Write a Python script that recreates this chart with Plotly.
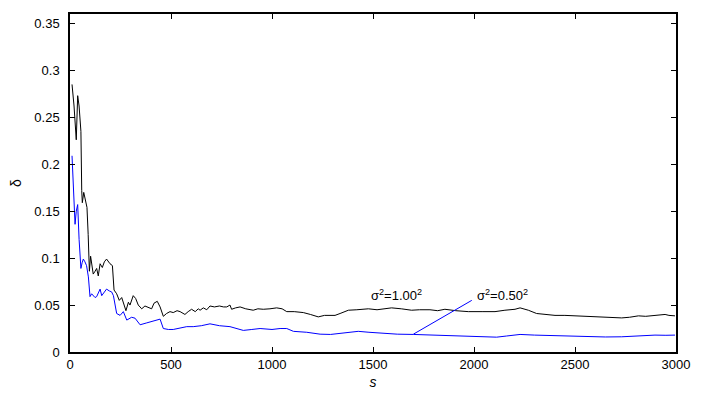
import plotly.graph_objects as go

# sigma^2 = 1.00^2 (black)
s_black = [10, 20, 31, 38, 45, 54, 58, 61, 68, 78, 84, 90, 94, 96, 102, 108, 115, 124, 132, 140,
           149, 160, 170, 181, 190, 198, 210, 218, 231, 244, 256, 267, 277, 289, 297, 313, 325, 338,
           355, 371, 388, 404, 416, 432, 446, 462, 478, 495, 511, 530, 545, 569, 585, 602, 620, 635,
           644, 660, 677, 693, 715, 740, 760, 776, 792, 800, 820, 842, 870, 907, 930, 957, 990, 1023,
           1050, 1073, 1110, 1155, 1190, 1229, 1260, 1287, 1312, 1337, 1378, 1420, 1477, 1520, 1560,
           1592, 1640, 1691, 1730, 1782, 1820, 1856, 1910, 1972, 2040, 2104, 2153, 2203, 2228, 2250,
           2269, 2310, 2350, 2401, 2450, 2500, 2566, 2620, 2680, 2731, 2770, 2814, 2850, 2896, 2946,
           2965, 2995]
d_black = [0.285, 0.262, 0.226, 0.273, 0.262, 0.235, 0.172, 0.159, 0.170, 0.158, 0.154, 0.125, 0.101,
           0.086, 0.102, 0.090, 0.083, 0.086, 0.089, 0.081, 0.094, 0.090, 0.096, 0.099, 0.096, 0.094,
           0.092, 0.066, 0.062, 0.055, 0.058, 0.050, 0.044, 0.053, 0.050, 0.060, 0.057, 0.050, 0.046,
           0.049, 0.047, 0.046, 0.052, 0.054, 0.048, 0.038, 0.041, 0.043, 0.042, 0.044, 0.043, 0.040,
           0.043, 0.0455, 0.043, 0.046, 0.0445, 0.047, 0.045, 0.049, 0.048, 0.049, 0.048, 0.048, 0.050,
           0.0455, 0.047, 0.048, 0.046, 0.0445, 0.046, 0.0455, 0.046, 0.047, 0.046, 0.043, 0.043, 0.042,
           0.040, 0.0374, 0.039, 0.039, 0.039, 0.041, 0.0445, 0.045, 0.046, 0.045, 0.046, 0.047, 0.046,
           0.0445, 0.045, 0.045, 0.044, 0.0455, 0.044, 0.043, 0.043, 0.043, 0.0445, 0.0455, 0.047,
           0.046, 0.0445, 0.041, 0.040, 0.039, 0.039, 0.0385, 0.0385, 0.0375, 0.037, 0.0363, 0.037,
           0.0385, 0.038, 0.039, 0.040, 0.039, 0.0385]

# sigma^2 = 0.50^2 (blue)
s_blue = [10, 18, 25, 31, 38, 45, 54, 60, 66, 74, 82, 91, 99, 107, 115, 124, 132, 140, 149, 157, 170,
          181, 195, 206, 215, 223, 231, 248, 264, 281, 295, 305, 322, 347, 380, 410, 429, 446, 462,
          487, 511, 540, 578, 610, 650, 693, 740, 792, 830, 858, 900, 941, 1000, 1040, 1073, 1106,
          1172, 1238, 1290, 1337, 1380, 1427, 1480, 1559, 1620, 1700, 1780, 1856, 1950, 2054, 2112,
          2160, 2203, 2228, 2300, 2401, 2480, 2566, 2650, 2731, 2800, 2850, 2896, 2950, 2995]
d_blue = [0.209, 0.170, 0.136, 0.150, 0.157, 0.120, 0.089, 0.095, 0.099, 0.096, 0.092, 0.080, 0.059,
          0.062, 0.060, 0.058, 0.059, 0.063, 0.067, 0.060, 0.064, 0.067, 0.065, 0.064, 0.060, 0.050,
          0.041, 0.039, 0.043, 0.034, 0.036, 0.037, 0.036, 0.029, 0.031, 0.033, 0.034, 0.035, 0.025,
          0.024, 0.024, 0.025, 0.027, 0.027, 0.028, 0.030, 0.028, 0.027, 0.025, 0.023, 0.024, 0.025,
          0.024, 0.025, 0.025, 0.022, 0.021, 0.019, 0.0187, 0.0197, 0.021, 0.022, 0.021, 0.0198,
          0.019, 0.0187, 0.018, 0.0173, 0.017, 0.0162, 0.0158, 0.017, 0.018, 0.0187, 0.018, 0.0173,
          0.0168, 0.0162, 0.016, 0.0162, 0.017, 0.0178, 0.018, 0.0178, 0.018]

x_ticks = [0, 500, 1000, 1500, 2000, 2500, 3000]
x_labels = ["0", "500", "1000", "1500", "2000", "2500", "3000"]
y_ticks = [0, 0.05, 0.1, 0.15, 0.2, 0.25, 0.3, 0.35]
y_labels = ["0", "0.05", "0.1", "0.15", "0.2", "0.25", "0.3", "0.35"]

FONT = "Liberation Sans, Arial, Helvetica, sans-serif"

fig = go.Figure()
fig.add_trace(go.Scatter(x=s_black, y=d_black, mode="lines",
                         line=dict(color="black", width=1), showlegend=False))
fig.add_trace(go.Scatter(x=s_blue, y=d_blue, mode="lines",
                         line=dict(color="#0000ff", width=1), showlegend=False))

axis_common = dict(showline=True, linecolor="black", linewidth=1.5, mirror="ticks",
                   ticks="inside", ticklen=5, tickcolor="black", tickwidth=1,
                   showgrid=False, zeroline=False,
                   tickfont=dict(family=FONT, size=13, color="black"))

fig.update_xaxes(range=[0, 3000], tickvals=x_ticks, ticktext=x_labels,
                 title=dict(text="<i>s</i>", font=dict(family=FONT, size=14, color="black"), standoff=6),
                 **axis_common)
fig.update_yaxes(range=[0, 0.36], tickvals=y_ticks, ticktext=y_labels, ticklabelstandoff=6,
                 title=dict(text="δ", font=dict(family=FONT, size=14, color="black"), standoff=12),
                 **axis_common)

fig.add_annotation(x=1618, y=0.0605, text="σ<sup>2</sup>=1.00<sup>2</sup>", showarrow=False,
                   font=dict(family=FONT, size=13, color="black"))
fig.add_annotation(x=2139, y=0.0605, text="σ<sup>2</sup>=0.50<sup>2</sup>", showarrow=False,
                   font=dict(family=FONT, size=13, color="black"))
fig.add_shape(type="line", x0=1700, y0=0.019, x1=1989, y1=0.055,
              line=dict(color="#0000ff", width=1))

# page body has an 8px default margin, so the figure is sized to fit inside it
fig.update_layout(width=695, height=388, margin=dict(l=62, r=27, t=4, b=44),
                  plot_bgcolor="white", paper_bgcolor="white")

fig.write_html("out.html")
